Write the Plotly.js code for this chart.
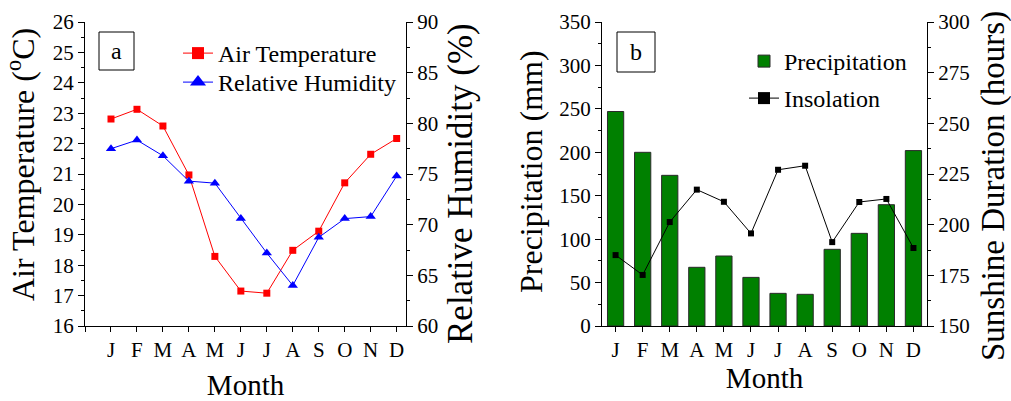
<!DOCTYPE html>
<html>
<head>
<meta charset="utf-8">
<script src="https://cdn.plot.ly/plotly-3.0.1.min.js"></script>
<style>html,body{margin:0;padding:0;background:#fff}#chart{width:1011px;height:401px}</style>
</head>
<body>
<div id="chart"></div>
<script>
var months = ['J','F','M','A','M','J','J','A','S','O','N','D'];
var airTemperature = [22.81, 23.13, 22.58, 20.97, 18.29, 17.15, 17.08, 18.49, 19.12, 20.71, 21.65, 22.17];
var relativeHumidity = [77.5, 78.35, 76.8, 74.3, 74.1, 70.6, 67.2, 64.0, 68.75, 70.6, 70.8, 74.8];
var precipitation = [247, 200, 173.5, 67.6, 80.6, 56, 37.6, 36.5, 88.3, 106.7, 139.7, 202];
var insolation = [185, 175.2, 201.3, 217.3, 211.3, 195.7, 227.1, 229.1, 191.4, 211.2, 212.7, 188.5];

var idx = months.map(function(m, i){ return i; });
var FONT = 'Liberation Serif, Times New Roman, serif';

var traces = [
  {x: idx, y: airTemperature, xaxis: 'x', yaxis: 'y', type: 'scatter', mode: 'lines+markers', showlegend: false,
   name: 'Air Temperature', line: {color: '#ff0000', width: 1}, marker: {symbol: 'square', size: 7, color: '#ff0000'}},
  {x: idx, y: relativeHumidity, xaxis: 'x', yaxis: 'y2', type: 'scatter', mode: 'lines+markers', showlegend: false,
   name: 'Relative Humidity', line: {color: '#0000ff', width: 1}, marker: {symbol: 'triangle-up', size: 9, color: '#0000ff'}},
  {x: idx, y: precipitation, xaxis: 'x2', yaxis: 'y3', type: 'bar', width: 0.6,
   name: 'Precipitation', marker: {color: '#008000', line: {color: '#2a2a2a', width: 1}}, legend: 'legend2'},
  {x: idx, y: insolation, xaxis: 'x2', yaxis: 'y4', type: 'scatter', mode: 'lines+markers', showlegend: false,
   name: 'Insolation', line: {color: '#000000', width: 1}, marker: {symbol: 'square', size: 6, color: '#000000'}},
  // legend-only entries (no data points) with larger symbols
  {x: [null], y: [null], xaxis: 'x', yaxis: 'y', type: 'scatter', mode: 'lines+markers', legend: 'legend',
   name: 'Air Temperature', line: {color: '#ff0000', width: 1}, marker: {symbol: 'square', size: 12, color: '#ff0000'}},
  {x: [null], y: [null], xaxis: 'x', yaxis: 'y2', type: 'scatter', mode: 'lines+markers', legend: 'legend3',
   name: 'Relative Humidity', line: {color: '#0000ff', width: 1}, marker: {symbol: 'triangle-up', size: 14, color: '#0000ff'}},
  {x: [null], y: [null], xaxis: 'x2', yaxis: 'y4', type: 'scatter', mode: 'lines+markers', legend: 'legend4',
   name: 'Insolation', line: {color: '#000000', width: 1}, marker: {symbol: 'square', size: 12, color: '#000000'}}
];

var axBase = {showline: true, linecolor: '#000', linewidth: 1, ticks: 'outside', tickcolor: '#000', tickwidth: 1,
  showgrid: false, zeroline: false, tickfont: {family: FONT, size: 21, color: '#000'}};
function ext(o, p){ var r = {}; for (var k in o) r[k] = o[k]; for (var k2 in p) r[k2] = p[k2]; return r; }
function legendAt(xpx, ytoppx){
  return {x: xpx/1011, y: 1 - ytoppx/401, xanchor: 'left', yanchor: 'top', bgcolor: 'rgba(0,0,0,0)',
    font: {family: FONT, size: 24, color: '#000'}, itemsizing: 'trace'};
}
function vtitle(text, xpx, ypx, size){
  return {text: text, xref: 'paper', yref: 'paper', x: xpx/1011, y: 1 - ypx/401, xanchor: 'center', yanchor: 'middle',
    textangle: -90, showarrow: false, font: {family: FONT, size: size, color: '#000'}};
}

var layout = {
  width: 1011, height: 401,
  margin: {l: 0, r: 0, t: 0, b: 0},
  paper_bgcolor: '#fff', plot_bgcolor: 'rgba(0,0,0,0)',
  font: {family: FONT, color: '#000'},
  showlegend: true,
  xaxis: ext(axBase, {domain: [0.0841, 0.4016], anchor: 'y', range: [-1, 11.36], tickmode: 'array',
    tickvals: idx, ticktext: months, ticklen: 5,
    minor: {tickmode: 'array', tickvals: [-1], ticks: 'outside', ticklen: 5, tickcolor: '#000'},
    title: {text: 'Month', font: {family: FONT, size: 29}, standoff: 14}}),
  xaxis3: ext(axBase, {overlaying: 'x', anchor: 'y', side: 'top', range: [-1, 11.36], tickmode: 'array',
    tickvals: idx, ticks: 'inside', ticklen: 3, showticklabels: false}),
  yaxis: ext(axBase, {domain: [0.187, 0.945], anchor: 'x', range: [16, 26], dtick: 1, ticklen: 6,
    minor: {dtick: 0.5, ticks: 'outside', ticklen: 3, tickcolor: '#000'}}),
  yaxis2: ext(axBase, {overlaying: 'y', anchor: 'x', side: 'right', range: [60, 90], dtick: 5, ticklen: 6,
    minor: {dtick: 2.5, ticks: 'outside', ticklen: 3, tickcolor: '#000'}}),
  xaxis2: ext(axBase, {domain: [0.5955, 0.9169], anchor: 'y3', range: [-0.5, 11.5], tickmode: 'array',
    tickvals: idx, ticktext: months, ticklen: 5,
    title: {text: 'Month', font: {family: FONT, size: 29}, standoff: 6}}),
  xaxis4: ext(axBase, {overlaying: 'x2', anchor: 'y3', side: 'top', range: [-0.5, 11.5], tickmode: 'array',
    tickvals: idx, ticks: 'inside', ticklen: 3, showticklabels: false}),
  yaxis3: ext(axBase, {domain: [0.187, 0.945], anchor: 'x2', range: [0, 350], dtick: 50, ticklen: 6,
    minor: {dtick: 25, ticks: 'outside', ticklen: 3, tickcolor: '#000'}}),
  yaxis4: ext(axBase, {overlaying: 'y3', anchor: 'x2', side: 'right', range: [150, 300], dtick: 25, ticklen: 6,
    minor: {dtick: 12.5, ticks: 'outside', ticklen: 3, tickcolor: '#000'}}),
  legend: legendAt(178, 31),
  legend3: legendAt(178, 60),
  legend2: legendAt(744, 39),
  legend4: legendAt(744, 76),
  shapes: [
    {type: 'rect', xref: 'paper', yref: 'paper', x0: 99/1011, x1: 134/1011, y0: 1 - 70/401, y1: 1 - 32/401, line: {color: '#000', width: 1}},
    {type: 'rect', xref: 'paper', yref: 'paper', x0: 617/1011, x1: 655/1011, y0: 1 - 72/401, y1: 1 - 32/401, line: {color: '#000', width: 1}}
  ],
  annotations: [
    {text: 'a', xref: 'paper', yref: 'paper', x: 116.5/1011, y: 1 - 51/401, xanchor: 'center', yanchor: 'middle', showarrow: false, font: {family: FONT, size: 24, color: '#000'}},
    {text: 'b', xref: 'paper', yref: 'paper', x: 636/1011, y: 1 - 52/401, xanchor: 'center', yanchor: 'middle', showarrow: false, font: {family: FONT, size: 24, color: '#000'}},
    vtitle('Air Temperature (<sup>o</sup>C)', 21, 165, 32),
    vtitle('Relative Humidity (%)', 460, 184, 35),
    vtitle('Precipitation (mm)', 531, 172, 32),
    vtitle('Sunshine Duration (hours)', 993, 186, 33)
  ]
};

Plotly.newPlot('chart', traces, layout, {displayModeBar: false, staticPlot: true});
</script>
</body>
</html>
